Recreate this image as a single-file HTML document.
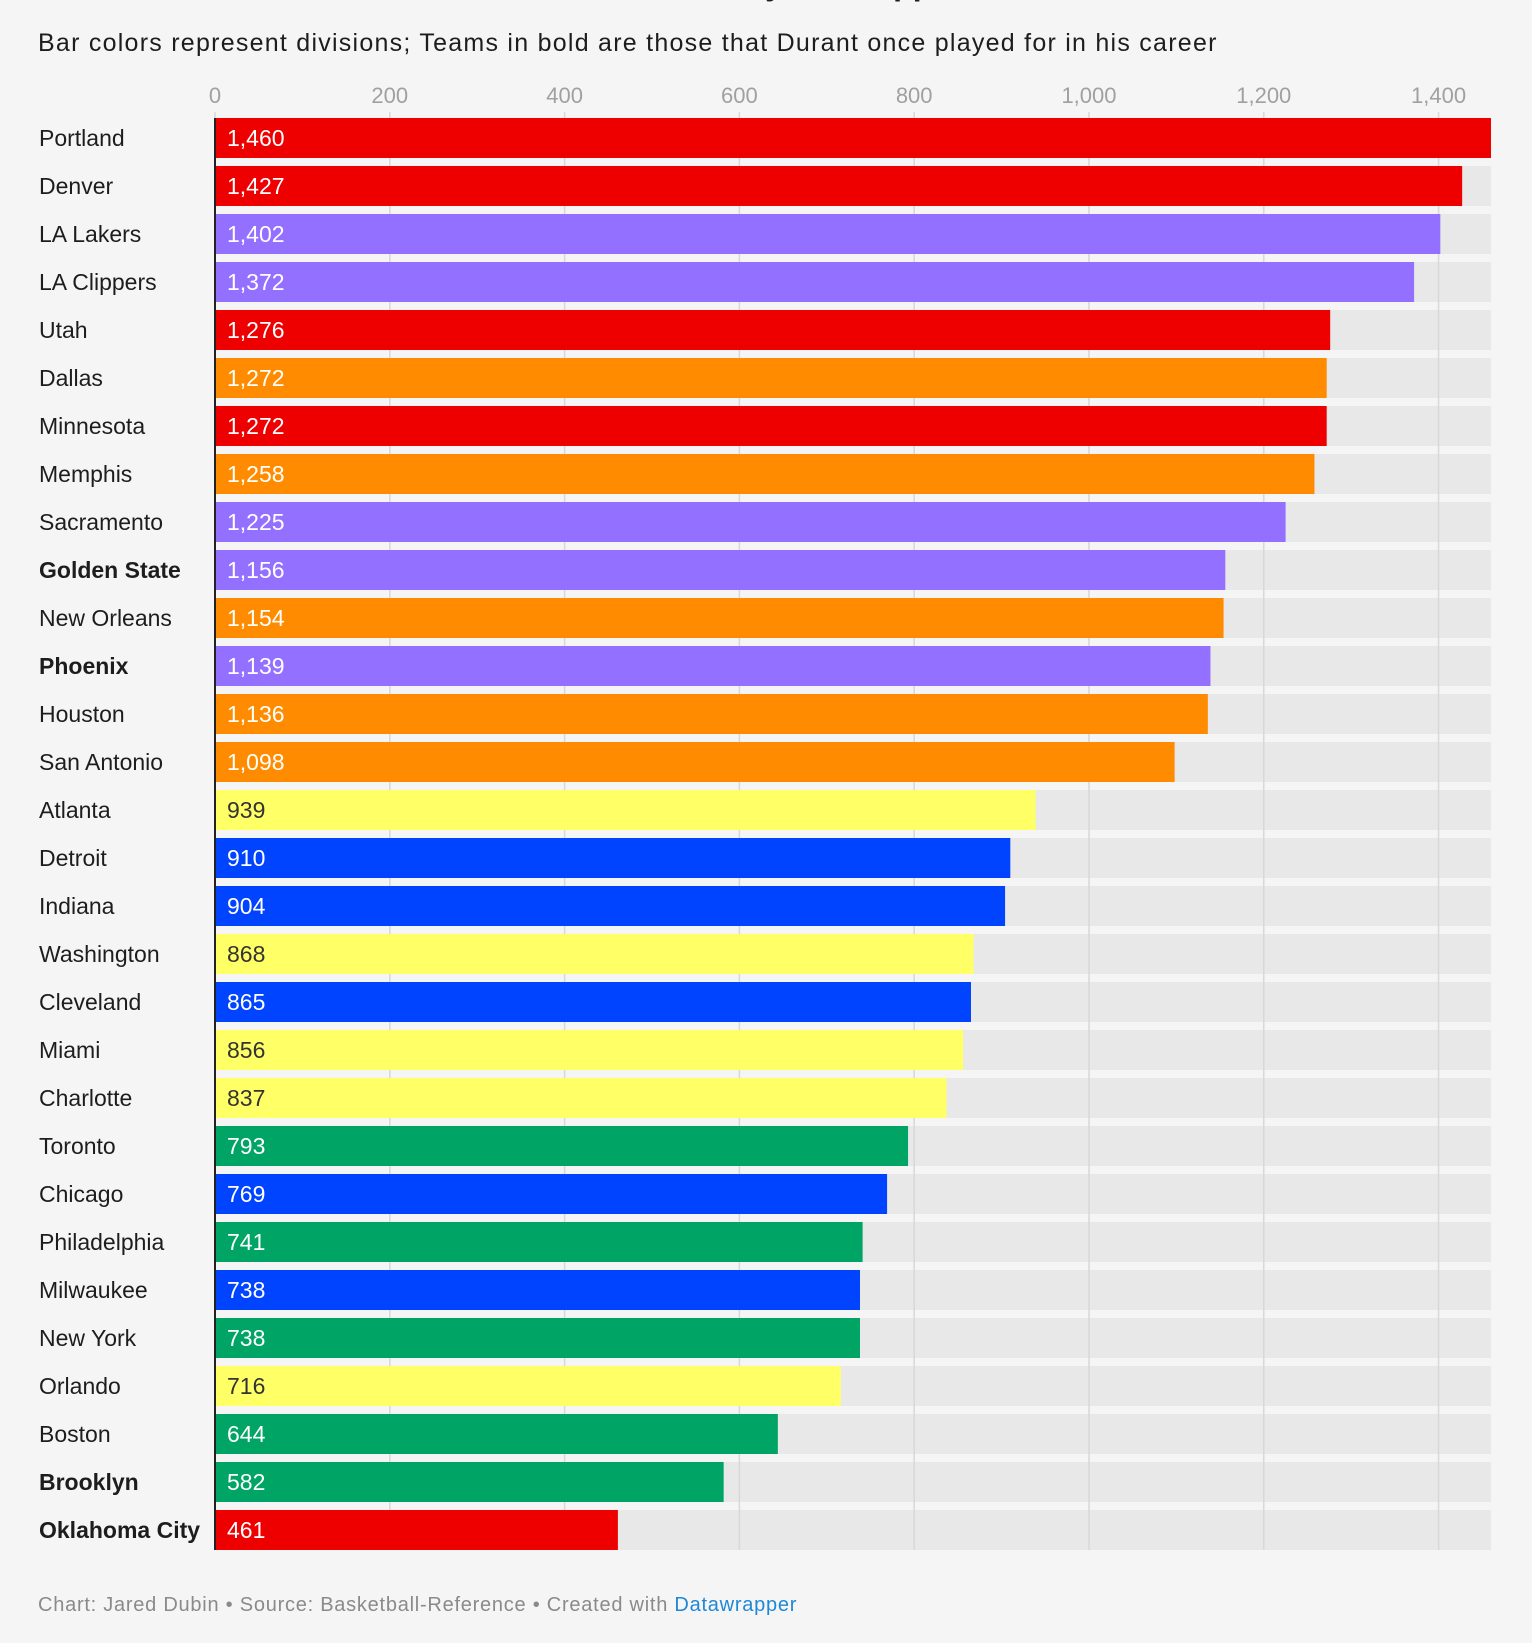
<!DOCTYPE html>
<html><head><meta charset="utf-8">
<style>
html,body{margin:0;padding:0;background:#f5f5f5;}
body{width:1532px;height:1643px;position:relative;overflow:hidden;font-family:"Liberation Sans",sans-serif;}
#subtitle{position:absolute;left:38px;top:29px;font-size:25px;color:#1d1d1d;white-space:nowrap;letter-spacing:1.25px;}
#title{position:absolute;left:0;width:1532px;top:-34px;text-align:center;font-size:32px;font-weight:bold;color:#1d1d1d;}
#footer{position:absolute;left:38px;top:1594px;font-size:20px;color:#8a8a8a;white-space:nowrap;letter-spacing:0.75px;}
#footer span{color:#1e88d6;}
</style></head><body>
<div id="title">Points allowed by each opponent</div>
<div id="subtitle">Bar colors represent divisions; Teams in bold are those that Durant once played for in his career</div>
<svg id="chart" width="1532" height="1643" style="position:absolute;left:0;top:0"></svg>
<div id="footer">Chart: Jared Dubin • Source: Basketball-Reference • Created with <span>Datawrapper</span></div>
<script>
const teams=["Portland","Denver","LA Lakers","LA Clippers","Utah","Dallas","Minnesota","Memphis","Sacramento","Golden State","New Orleans","Phoenix","Houston","San Antonio","Atlanta","Detroit","Indiana","Washington","Cleveland","Miami","Charlotte","Toronto","Chicago","Philadelphia","Milwaukee","New York","Orlando","Boston","Brooklyn","Oklahoma City"];
const values=[1460,1427,1402,1372,1276,1272,1272,1258,1225,1156,1154,1139,1136,1098,939,910,904,868,865,856,837,793,769,741,738,738,716,644,582,461];
const divisions=["NW","NW","PAC","PAC","NW","SW","NW","SW","PAC","PAC","SW","PAC","SW","SW","SE","CEN","CEN","SE","CEN","SE","SE","ATL","CEN","ATL","CEN","ATL","SE","ATL","ATL","NW"];
const boldTeams=["Golden State","Phoenix","Brooklyn","Oklahoma City"];
const ticks=[0,200,400,600,800,1000,1200,1400];
const colors={NW:"#ee0000",PAC:"#9370ff",SW:"#ff8c00",SE:"#ffff66",CEN:"#0044ff",ATL:"#00a464"};
const NS="http://www.w3.org/2000/svg";
const svg=document.getElementById('chart');
const x0=215,xMax=1460,xEnd=1491;
const xs=v=>x0+(v/xMax)*(xEnd-x0);
const rowTop=i=>118+i*48;const barH=40;
function mk(t,a){const e=document.createElementNS(NS,t);for(const k in a)e.setAttribute(k,a[k]);svg.appendChild(e);return e;}
teams.forEach((t,i)=>{
  const b=mk('rect',{x:x0,y:rowTop(i),width:xEnd-x0,height:barH,fill:"#e8e8e8"});
  
  
});
ticks.forEach(v=>{
  const l=mk('line',{x1:xs(v),x2:xs(v),y1:112,y2:1550,stroke:"#d8d8d8","stroke-width":1.5});
  
  
  const tx=mk('text',{x:xs(v),y:103,"text-anchor":"middle","font-size":22,fill:"#a0a0a0","font-family":"Liberation Sans, sans-serif"});
  tx.textContent=v.toLocaleString('en-US');
  
  
});
teams.forEach((t,i)=>{
  const y=rowTop(i);
  const r=mk('rect',{x:x0+1,y:y,width:xs(values[i])-x0-1,height:barH,fill:colors[divisions[i]]});
  
  
  const lb=mk('text',{x:39,y:y+28,"font-size":23,fill:"#1d1d1d","font-weight":boldTeams.includes(t)?"bold":"normal","font-family":"Liberation Sans, sans-serif"});
  lb.textContent=t;
  
  
  const vl=mk('text',{x:227,y:y+28,"font-size":23,fill:divisions[i]==="SE"?"#333":"#fff","font-family":"Liberation Sans, sans-serif"});
  vl.textContent=values[i].toLocaleString('en-US');
  
  
});
const ax=mk('line',{x1:x0,x2:x0,y1:118,y2:1550,stroke:"#222","stroke-width":2});


</script>
</body></html>
